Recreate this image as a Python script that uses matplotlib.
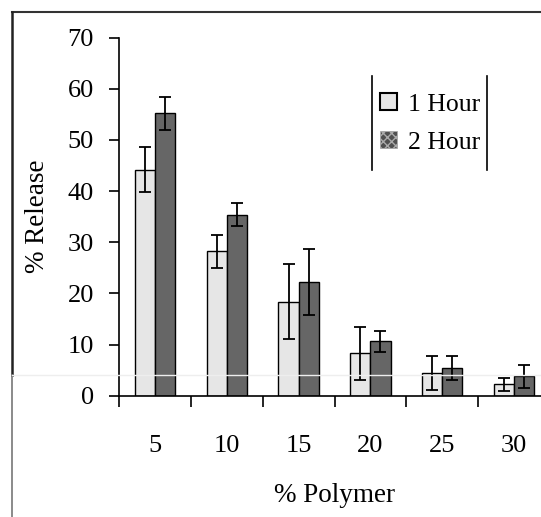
import matplotlib
matplotlib.use("Agg")
import matplotlib.pyplot as plt
from matplotlib.patches import Patch
from matplotlib.lines import Line2D
import numpy as np

categories = ["5", "10", "15", "20", "25", "30"]
hour1 = [44.2, 28.2, 18.4, 8.3, 4.5, 2.2]
hour1_err = [4.4, 3.3, 7.4, 5.2, 3.3, 1.2]
hour2 = [55.2, 35.4, 22.2, 10.6, 5.4, 3.8]
hour2_err = [3.2, 2.3, 6.4, 2.1, 2.4, 2.3]
series_labels = ["1 Hour", "2 Hour"]
yticks = [0, 10, 20, 30, 40, 50, 60, 70]

W, H = 541, 517
fig = plt.figure(figsize=(W / 100, H / 100), dpi=100)
plt.rcParams['font.family'] = ['Liberation Serif', 'DejaVu Serif']

# axes in pixel coordinates (extends beyond right edge like the reference)
left_px, right_px = 119, 550
top_px, bottom_px = 37.7, 395.7
ax = fig.add_axes([left_px / W, 1 - bottom_px / H,
                   (right_px - left_px) / W, (bottom_px - top_px) / H])

x = np.arange(len(categories))
bw = 0.28
light = "#e6e6e6"
dark = "#666666"
ekw = dict(ecolor="black", elinewidth=1.3, capsize=4.3, capthick=1.3)
ax.bar(x - bw / 2, hour1, width=bw, color=light, edgecolor="black", linewidth=1.0,
       yerr=hour1_err, error_kw=ekw)
ax.bar(x + bw / 2, hour2, width=bw, color=dark, edgecolor="black", linewidth=1.0,
       yerr=hour2_err, error_kw=ekw)

ax.set_xlim(-0.5, len(categories) - 0.5)
ax.set_ylim(0, 70)
ax.set_yticks(yticks)
ax.set_xticks(np.arange(len(categories) + 1) - 0.5)
ax.set_xticklabels([])
ax.set_xticks(x, minor=True)
ax.set_xticklabels(categories, minor=True)
ax.tick_params(axis='x', which='major', direction='out', length=8, width=1.2)
ax.tick_params(axis='x', which='minor', length=0, pad=28, labelsize=19)
ax.tick_params(axis='y', direction='out', length=7, width=1.2, pad=11, labelsize=19)
for s in ['top', 'right']:
    ax.spines[s].set_visible(False)
for s in ['left', 'bottom']:
    ax.spines[s].set_linewidth(1.2)
ax.set_ylabel("% Release", fontsize=19.5, labelpad=13)
ax.set_xlabel("% Polymer", fontsize=19.5, labelpad=19)

handles = [Patch(facecolor=light, edgecolor="black", linewidth=1.5),
           Patch(facecolor="#505050", edgecolor="#aaaaaa", hatch="xxxx", linewidth=0.5)]
leg = ax.legend(handles, series_labels, loc="upper left",
                bbox_to_anchor=(380 / W, 1 - 93 / H), bbox_transform=fig.transFigure,
                frameon=False, borderpad=0, borderaxespad=0, fontsize=18.5,
                handlelength=0.68, handleheight=0.64, handletextpad=0.4,
                labelspacing=0.62)

def fig_line(x0, y0, x1, y1, **kw):
    fig.add_artist(Line2D([x0 / W, x1 / W], [1 - y0 / H, 1 - y1 / H],
                          transform=fig.transFigure, **kw))

# legend side borders
fig_line(372, 76, 372, 170, color="black", lw=1.2)
fig_line(487, 76, 487, 170, color="black", lw=1.2)
# outer frame
fig_line(11.5, 11.5, 541, 11.5, color="#333333", lw=1.5)
fig_line(11.5, 11.5, 11.5, 375, color="#222222", lw=1.8)
fig_line(11.5, 375, 11.5, 517, color="#777777", lw=1.2)
fig_line(11.5, 375, 541, 375, color="#eeeeee", lw=1.0)

fig.savefig("out.png", dpi=100)
